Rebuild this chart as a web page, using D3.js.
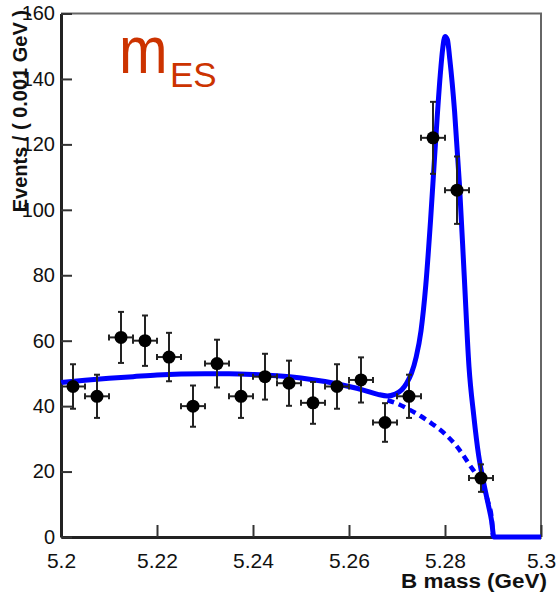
<!DOCTYPE html>
<html>
<head>
<meta charset="utf-8">
<script src="https://cdn.jsdelivr.net/npm/d3@7"></script>
<style>
  html, body { margin: 0; padding: 0; background: #fff; }
  svg { display: block; }
  text { font-family: "Liberation Sans", Arial, Helvetica, sans-serif; }
</style>
</head>
<body>
<svg id="chart" width="557" height="592"></svg>
<script>
// ---- data ----
const binCenters = [5.2025, 5.2075, 5.2125, 5.2175, 5.2225, 5.2275, 5.2325, 5.2375, 5.2425,
                    5.2475, 5.2525, 5.2575, 5.2625, 5.2675, 5.2725, 5.2775, 5.2825, 5.2875];
const events     = [46, 43, 61, 60, 55, 40, 53, 43, 49, 47, 41, 46, 48, 35, 43, 122, 106, 18];
const errors     = [6.8, 6.6, 7.8, 7.7, 7.4, 6.3, 7.3, 6.6, 7.0, 6.9, 6.4, 6.8, 6.9, 5.9, 6.6, 11.0, 10.3, 4.2];
const binHalfWidth = 0.0025;

// total fit curve (solid)
const fitX = [5.200, 5.205, 5.210, 5.215, 5.220, 5.225, 5.230, 5.235, 5.240, 5.245, 5.250, 5.255,
              5.260, 5.263, 5.266, 5.268, 5.2695, 5.271, 5.272, 5.273, 5.274, 5.275, 5.276, 5.277,
              5.278, 5.279, 5.2795, 5.2800, 5.2805, 5.281, 5.282, 5.283, 5.284, 5.285, 5.286, 5.287,
              5.288, 5.289, 5.2897, 5.2902, 5.300];
const fitY = [47.2, 47.9, 48.5, 49.0, 49.5, 49.8, 49.9, 49.9, 49.7, 49.3, 48.6, 47.5,
              46.0, 44.9, 43.6, 43.1, 43.6, 45.0, 47.0, 50.0, 55, 63, 77, 97,
              120, 141, 149, 153, 152, 146, 130, 108, 80, 52, 37, 25,
              17, 10, 5, 0, 0];

// background-only curve (dashed part)
const bkgX = [5.268, 5.270, 5.2725, 5.275, 5.2775, 5.280, 5.2825, 5.285, 5.2875, 5.289, 5.2897, 5.290];
const bkgY = [41.8, 40.8, 39.0, 36.9, 34.4, 31.5, 27.6, 22.3, 16.5, 10.5, 6.0, 0];

const xMajor = [5.2, 5.22, 5.24, 5.26, 5.28, 5.3];
const xMajorLabels = ["5.2", "5.22", "5.24", "5.26", "5.28", "5.3"];
const xMinor = [5.205, 5.21, 5.215, 5.225, 5.23, 5.235, 5.245, 5.25, 5.255, 5.265, 5.27, 5.275, 5.285, 5.29, 5.295];
const yMajor = [0, 20, 40, 60, 80, 100, 120, 140, 160];
const yMajorLabels = ["0", "20", "40", "60", "80", "100", "120", "140", "160"];
const yMinor = [5, 10, 15, 25, 30, 35, 45, 50, 55, 65, 70, 75, 85, 90, 95, 105, 110, 115, 125, 130, 135, 145, 150, 155];

const xTitle = "B mass (GeV)";
const yTitle = "Events / ( 0.001 GeV )";

// ---- layout ----
const L = 61, R = 541, T = 13.5, B = 537;
const svg = d3.select("#chart");
const x = d3.scaleLinear().domain([5.2, 5.3]).range([L, R]);
const y = d3.scaleLinear().domain([0, 160]).range([B, T]);

// frame (top & right)
svg.append("path")
  .attr("d", `M${L},${T}H${R}V${B}`)
  .attr("fill", "none").attr("stroke", "#666").attr("stroke-width", 2);

// x axis
const gx = svg.append("g").attr("transform", `translate(0,${B})`);
gx.call(d3.axisBottom(x).tickValues(xMinor).tickSize(-6).tickFormat(""));
gx.call(d3.axisBottom(x).tickValues(xMajor).tickSize(-12).tickSizeOuter(0).tickPadding(16)
  .tickFormat((d, i) => xMajorLabels[i]));
gx.selectAll(".domain").attr("stroke", "#222").attr("stroke-width", 3);
gx.selectAll(".tick line").attr("stroke", "#333").attr("stroke-width", 2);
gx.selectAll(".tick text").attr("font-size", 21).attr("fill", "#111")
  .style("font-family", "'Liberation Sans', Arial, sans-serif");

// y axis
const gy = svg.append("g").attr("transform", `translate(${L},0)`);
gy.call(d3.axisLeft(y).tickValues(yMinor).tickSize(-6).tickFormat(""));
gy.call(d3.axisLeft(y).tickValues(yMajor).tickSize(-11).tickSizeOuter(0).tickPadding(6)
  .tickFormat((d, i) => yMajorLabels[i]));
gy.selectAll(".domain").attr("stroke", "#222").attr("stroke-width", 3);
gy.selectAll(".tick line").attr("stroke", "#333").attr("stroke-width", 2);
gy.selectAll(".tick text").attr("font-size", 20).attr("fill", "#111")
  .style("font-family", "'Liberation Sans', Arial, sans-serif");

// axis titles
svg.append("text")
  .attr("x", 547).attr("y", 588)
  .attr("text-anchor", "end")
  .attr("font-size", 20).attr("font-weight", "bold").attr("fill", "#111")
  .attr("textLength", 146).attr("lengthAdjust", "spacingAndGlyphs")
  .text(xTitle);

svg.append("text")
  .attr("transform", `translate(27,10) rotate(-90)`)
  .attr("text-anchor", "end")
  .attr("font-size", 20).attr("font-weight", "bold").attr("fill", "#111")
  .text(yTitle);

// fit curves
const fitData = fitX.map((d, i) => [d, fitY[i]]);
const bkgData = bkgX.map((d, i) => [d, bkgY[i]]);
const line = d3.line().x(d => x(d[0])).y(d => y(d[1])).curve(d3.curveMonotoneX);

svg.append("path").attr("d", line(bkgData))
  .attr("fill", "none").attr("stroke", "#0000ff").attr("stroke-width", 4.5)
  .attr("stroke-dasharray", "7,5");

svg.append("path").attr("d", line(fitData))
  .attr("fill", "none").attr("stroke", "#0000ff").attr("stroke-width", 5)
  .attr("stroke-linejoin", "round");

// data points with error bars
const pts = binCenters.map((c, i) => ({ c, v: events[i], e: errors[i] }));
const gp = svg.append("g").attr("stroke", "#222").attr("stroke-width", 2);
gp.selectAll(".ev").data(pts).join("line")
  .attr("x1", d => x(d.c)).attr("x2", d => x(d.c))
  .attr("y1", d => y(d.v + d.e)).attr("y2", d => y(d.v - d.e));
gp.selectAll(".capT").data(pts).join("line")
  .attr("x1", d => x(d.c) - 3).attr("x2", d => x(d.c) + 3)
  .attr("y1", d => y(d.v + d.e)).attr("y2", d => y(d.v + d.e));
gp.selectAll(".capB").data(pts).join("line")
  .attr("x1", d => x(d.c) - 3).attr("x2", d => x(d.c) + 3)
  .attr("y1", d => y(d.v - d.e)).attr("y2", d => y(d.v - d.e));
gp.selectAll(".eh").data(pts).join("line")
  .attr("x1", d => x(d.c - binHalfWidth)).attr("x2", d => x(d.c + binHalfWidth))
  .attr("y1", d => y(d.v)).attr("y2", d => y(d.v));
gp.selectAll(".capL").data(pts).join("line")
  .attr("x1", d => x(d.c - binHalfWidth)).attr("x2", d => x(d.c - binHalfWidth))
  .attr("y1", d => y(d.v) - 3).attr("y2", d => y(d.v) + 3);
gp.selectAll(".capR").data(pts).join("line")
  .attr("x1", d => x(d.c + binHalfWidth)).attr("x2", d => x(d.c + binHalfWidth))
  .attr("y1", d => y(d.v) - 3).attr("y2", d => y(d.v) + 3);
svg.append("g").selectAll("circle").data(pts).join("circle")
  .attr("cx", d => x(d.c)).attr("cy", d => y(d.v)).attr("r", 6.5)
  .attr("fill", "#000");

// m_ES label
svg.append("text")
  .attr("transform", "translate(119,73) scale(0.87,1)")
  .attr("font-size", 67).attr("fill", "#cc3300")
  .text("m");
svg.append("text")
  .attr("x", 170).attr("y", 87)
  .attr("font-size", 35).attr("fill", "#cc3300")
  .text("ES");
</script>
</body>
</html>
